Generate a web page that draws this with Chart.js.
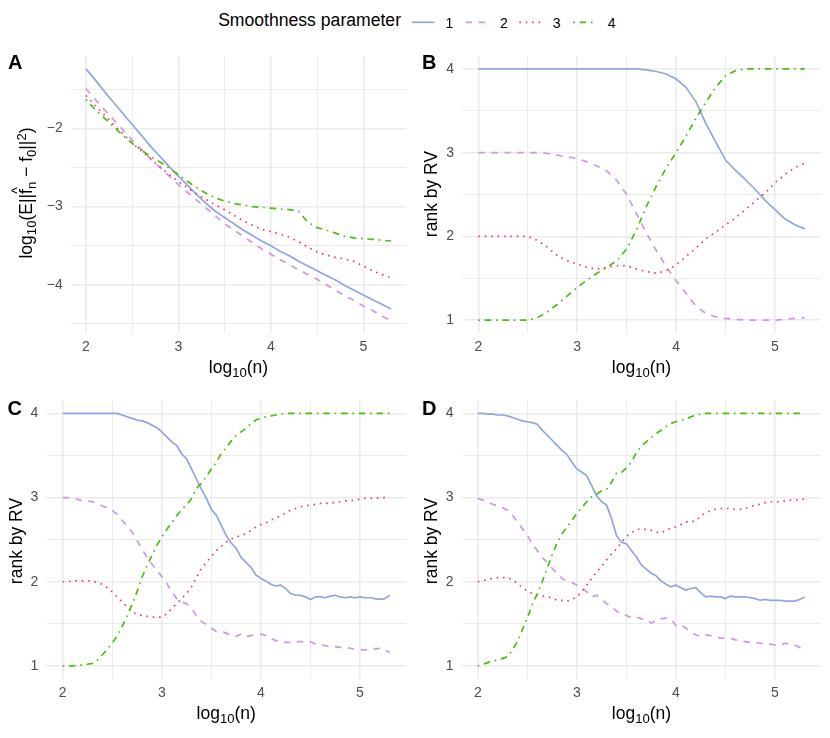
<!DOCTYPE html>
<html>
<head>
<meta charset="utf-8">
<script src="https://cdn.jsdelivr.net/npm/chart.js@4.4.1/dist/chart.umd.min.js"></script>
<style>
  body { margin: 0; background: #fff; }
  #fig { position: relative; width: 830px; height: 738px; overflow: hidden;
         font-family: "Liberation Sans", Arial, Helvetica, sans-serif; color: #000; }
  canvas { position: absolute; }
  .lbl { position: absolute; white-space: nowrap; line-height: 1; font-size: 17.5px;
         transform: translate(-50%, -50%); }
  .ytitle { transform: translate(-50%, -50%) rotate(-90deg); }
  .tag { position: absolute; font-weight: bold; font-size: 20px; line-height: 1; }
  .lbl sub, .lbl sup { font-size: 0.75em; line-height: 0; }
  .lbl sub { vertical-align: -0.3em; }
  .lbl sup { vertical-align: 0.5em; }
  .hat { position: relative; display: inline-block; }
  .caret { position: absolute; left: 0.02em; top: -0.6em; font-size: 0.8em; }
  .leg { position: absolute; white-space: nowrap; line-height: 1; transform: translate(-50%, -50%); font-size: 14px; }
  #legTitle { position: absolute; right: 429px; top: 12px; font-size: 17.6px; line-height: 1; white-space: nowrap; }
  #legKeys { position: absolute; left: 0; top: 0; }
</style>
</head>
<body>
<div id="fig">
  <span id="legTitle">Smoothness parameter</span>
  <svg id="legKeys" width="830" height="40"></svg>

  <canvas id="pA" width="415" height="340" style="left:0;top:40px"></canvas>
  <canvas id="pB" width="415" height="340" style="left:415px;top:40px"></canvas>
  <canvas id="pC" width="415" height="358" style="left:0;top:380px"></canvas>
  <canvas id="pD" width="415" height="358" style="left:415px;top:380px"></canvas>

  <div class="tag" style="left:8px;top:52.4px">A</div>
  <div class="tag" style="left:422px;top:52.4px">B</div>
  <div class="tag" style="left:7.5px;top:398px">C</div>
  <div class="tag" style="left:422px;top:398px">D</div>

  <div class="lbl" style="left:238.5px;top:367.5px">log<sub>10</sub>(n)</div>
  <div class="lbl" style="left:641.5px;top:367.5px">log<sub>10</sub>(n)</div>
  <div class="lbl" style="left:226.2px;top:714px">log<sub>10</sub>(n)</div>
  <div class="lbl" style="left:641.5px;top:714px">log<sub>10</sub>(n)</div>

  <div class="lbl ytitle" style="left:27px;top:193px">log<sub>10</sub>(E||<span class="hat">f<span class="caret">^</span></span><sub>n</sub> &#8722; f<sub>0</sub>||<sup>2</sup>)</div>
  <div class="lbl ytitle" style="left:431.5px;top:193.5px">rank by RV</div>
  <div class="lbl ytitle" style="left:16.8px;top:540.5px">rank by RV</div>
  <div class="lbl ytitle" style="left:431.5px;top:540.5px">rank by RV</div>
</div>

<script>
// x values: log10(n)
const logN = [2.0, 2.1, 2.2, 2.3, 2.4, 2.5, 2.6, 2.7, 2.8, 2.9,
              3.0, 3.1, 3.2, 3.3, 3.4, 3.5, 3.6, 3.7, 3.8, 3.9,
              4.0, 4.1, 4.2, 4.3, 4.4, 4.5, 4.6, 4.7, 4.8, 4.9,
              5.0, 5.1, 5.2, 5.3];
const logNFine = [2.00, 2.05, 2.10, 2.15, 2.20, 2.25, 2.30, 2.35, 2.40, 2.45,
                  2.50, 2.55, 2.60, 2.65, 2.70, 2.75, 2.80, 2.85, 2.90, 2.95,
                  3.00, 3.05, 3.10, 3.15, 3.20, 3.25, 3.30, 3.35, 3.40, 3.45,
                  3.50, 3.55, 3.60, 3.65, 3.70, 3.75, 3.80, 3.85, 3.90, 3.95,
                  4.00, 4.05, 4.10, 4.15, 4.20, 4.25, 4.30, 4.35, 4.40, 4.45,
                  4.50, 4.55, 4.60, 4.65, 4.70, 4.75, 4.80, 4.85, 4.90, 4.95,
                  5.00, 5.05, 5.10, 5.15, 5.20, 5.25, 5.30];

const smoothness = ['1', '2', '3', '4'];

const xMajorTicks = [2, 3, 4, 5];
const xMinorTicks = [2.5, 3.5, 4.5];
const errMajorTicks = [-4, -3, -2];
const errMinorTicks = [-4.5, -3.5, -2.5, -1.5];
const rankMajorTicks = [1, 2, 3, 4];
const rankMinorTicks = [1.5, 2.5, 3.5];

// panel A: log10 of the error
const errA1 = [-1.24, -1.38, -1.53, -1.67, -1.81, -1.95, -2.09, -2.23, -2.36, -2.49,
               -2.61, -2.73, -2.85, -2.96, -3.06, -3.14, -3.22, -3.30, -3.37, -3.44,
               -3.50, -3.57, -3.63, -3.70, -3.76, -3.82, -3.88, -3.94, -4.01, -4.07,
               -4.13, -4.19, -4.25, -4.31];
const errA2 = [-1.49, -1.63, -1.76, -1.89, -2.02, -2.15, -2.27, -2.39, -2.50, -2.61,
               -2.72, -2.82, -2.92, -3.02, -3.12, -3.22, -3.30, -3.38, -3.46, -3.54,
               -3.61, -3.68, -3.74, -3.81, -3.87, -3.93, -4.00, -4.07, -4.14, -4.20,
               -4.27, -4.33, -4.40, -4.46];
const errA3 = [-1.58, -1.71, -1.83, -1.95, -2.07, -2.19, -2.29, -2.39, -2.49, -2.59,
               -2.68, -2.76, -2.84, -2.91, -2.98, -3.04, -3.11, -3.18, -3.24, -3.29,
               -3.32, -3.35, -3.39, -3.45, -3.52, -3.58, -3.62, -3.65, -3.67, -3.70,
               -3.76, -3.82, -3.87, -3.91];
const errA4 = [-1.63, -1.76, -1.87, -1.98, -2.09, -2.19, -2.28, -2.36, -2.43, -2.51,
               -2.59, -2.68, -2.76, -2.83, -2.89, -2.93, -2.96, -2.98, -3.00, -3.01,
               -3.02, -3.03, -3.04, -3.06, -3.20, -3.27, -3.30, -3.34, -3.38, -3.40,
               -3.41, -3.42, -3.43, -3.44];

// panel B: rank by RV
const rankB1 = [4, 4, 4, 4, 4, 4, 4, 4, 4, 4,
                4, 4, 4, 4, 4, 4, 4, 3.99, 3.97, 3.94,
                3.88, 3.78, 3.61, 3.35, 3.13, 2.91, 2.79, 2.68, 2.56, 2.43,
                2.32, 2.21, 2.14, 2.09];
const rankB2 = [3, 3, 3, 3, 3, 3, 3, 2.99, 2.97, 2.95,
                2.93, 2.89, 2.84, 2.78, 2.67, 2.50, 2.27, 2.04, 1.83, 1.64,
                1.47, 1.32, 1.17, 1.08, 1.04, 1.02, 1.01, 1.00, 1.00, 1.00,
                1.00, 1.01, 1.02, 1.03];
const rankB3 = [2, 2, 2, 2, 2, 2, 1.95, 1.87, 1.77, 1.71,
                1.67, 1.63, 1.61, 1.63, 1.65, 1.65, 1.61, 1.58, 1.56, 1.59,
                1.66, 1.76, 1.86, 1.97, 2.05, 2.14, 2.22, 2.32, 2.42, 2.52,
                2.64, 2.74, 2.82, 2.87];
const rankB4 = [1, 1, 1, 1, 1, 1, 1.03, 1.10, 1.19, 1.29,
                1.39, 1.48, 1.56, 1.63, 1.71, 1.85, 2.08, 2.36, 2.60, 2.82,
                3.00, 3.20, 3.41, 3.60, 3.78, 3.92, 3.98, 4, 4, 4,
                4, 4, 4, 4];

// panel C
const rankC1 = [4.00, 4.00, 4.00, 4.00, 4.00, 4.00, 4.00, 4.00, 4.00, 4.00,
                4.00, 4.00, 3.98, 3.96, 3.94, 3.92, 3.91, 3.89, 3.86, 3.83,
                3.78, 3.72, 3.66, 3.62, 3.52, 3.46, 3.34, 3.22, 3.10, 2.99,
                2.86, 2.79, 2.67, 2.55, 2.46, 2.40, 2.29, 2.23, 2.17, 2.08,
                2.04, 2.01, 1.97, 1.95, 1.96, 1.92, 1.86, 1.84, 1.84, 1.82,
                1.79, 1.82, 1.82, 1.81, 1.83, 1.84, 1.82, 1.81, 1.82, 1.81,
                1.82, 1.81, 1.81, 1.80, 1.79, 1.80, 1.84];
const rankC2 = [3.00, 3.00, 2.99, 2.98, 2.96, 2.96, 2.95, 2.93, 2.90, 2.88,
                2.85, 2.80, 2.73, 2.66, 2.59, 2.49, 2.39, 2.29, 2.21, 2.14,
                2.06, 1.98, 1.88, 1.80, 1.76, 1.74, 1.68, 1.60, 1.53, 1.49,
                1.45, 1.41, 1.41, 1.39, 1.36, 1.35, 1.38, 1.35, 1.36, 1.38,
                1.38, 1.36, 1.33, 1.30, 1.30, 1.28, 1.28, 1.29, 1.29, 1.28,
                1.29, 1.26, 1.25, 1.24, 1.23, 1.23, 1.22, 1.22, 1.21, 1.20,
                1.19, 1.19, 1.20, 1.20, 1.21, 1.19, 1.16];
const rankC3 = [2.00, 2.00, 2.01, 2.01, 2.01, 2.01, 2.01, 1.99, 1.97, 1.93,
                1.88, 1.82, 1.76, 1.70, 1.65, 1.61, 1.60, 1.59, 1.58, 1.58,
                1.58, 1.62, 1.68, 1.74, 1.80, 1.86, 1.94, 2.05, 2.16, 2.23,
                2.30, 2.37, 2.42, 2.47, 2.51, 2.53, 2.55, 2.57, 2.61, 2.65,
                2.68, 2.70, 2.73, 2.76, 2.78, 2.82, 2.85, 2.87, 2.89, 2.90,
                2.91, 2.92, 2.93, 2.93, 2.94, 2.94, 2.95, 2.96, 2.96, 2.97,
                2.98, 2.99, 2.99, 2.99, 3.00, 3.00, 3.00];
const rankC4 = [1.00, 1.00, 1.00, 1.01, 1.01, 1.02, 1.03, 1.07, 1.13, 1.20,
                1.27, 1.36, 1.47, 1.59, 1.73, 1.88, 2.05, 2.19, 2.31, 2.43,
                2.53, 2.62, 2.70, 2.78, 2.86, 2.91, 2.99, 3.11, 3.17, 3.25,
                3.34, 3.42, 3.52, 3.59, 3.67, 3.74, 3.78, 3.82, 3.88, 3.92,
                3.94, 3.96, 3.97, 3.98, 3.99, 4.00, 4.00, 4.00, 4.00, 4.00,
                4.00, 4.00, 4.00, 4.00, 4.00, 4.00, 4.00, 4.00, 4.00, 4.00,
                4.00, 4.00, 4.00, 4.00, 4.00, 4.00, 4.00];

// panel D
const rankD1 = [4.00, 4.00, 3.99, 3.99, 3.98, 3.98, 3.97, 3.95, 3.93, 3.91,
                3.90, 3.89, 3.87, 3.80, 3.74, 3.68, 3.62, 3.56, 3.51, 3.42,
                3.34, 3.30, 3.26, 3.14, 3.02, 2.95, 2.91, 2.75, 2.55, 2.47,
                2.45, 2.37, 2.30, 2.20, 2.15, 2.10, 2.07, 2.01, 1.97, 1.94,
                1.96, 1.93, 1.90, 1.92, 1.93, 1.87, 1.82, 1.83, 1.82, 1.82,
                1.80, 1.83, 1.82, 1.82, 1.82, 1.81, 1.80, 1.78, 1.79, 1.78,
                1.78, 1.78, 1.77, 1.77, 1.77, 1.79, 1.82];
const rankD2 = [2.99, 2.97, 2.95, 2.92, 2.90, 2.88, 2.85, 2.79, 2.71, 2.63,
                2.55, 2.45, 2.37, 2.29, 2.23, 2.16, 2.10, 2.04, 2.01, 1.99,
                1.96, 1.93, 1.88, 1.82, 1.84, 1.79, 1.74, 1.71, 1.65, 1.62,
                1.60, 1.57, 1.58, 1.56, 1.55, 1.51, 1.54, 1.56, 1.57, 1.56,
                1.48, 1.49, 1.45, 1.40, 1.37, 1.35, 1.37, 1.36, 1.35, 1.33,
                1.33, 1.33, 1.31, 1.30, 1.29, 1.28, 1.28, 1.27, 1.26, 1.26,
                1.25, 1.25, 1.27, 1.26, 1.25, 1.22, 1.20];
const rankD3 = [2.00, 2.01, 2.03, 2.04, 2.05, 2.05, 2.05, 2.02, 1.98, 1.93,
                1.89, 1.86, 1.84, 1.83, 1.82, 1.81, 1.78, 1.78, 1.77, 1.79,
                1.82, 1.88, 1.96, 2.04, 2.12, 2.18, 2.26, 2.33, 2.39, 2.47,
                2.54, 2.58, 2.62, 2.63, 2.62, 2.61, 2.59, 2.58, 2.61, 2.64,
                2.65, 2.68, 2.71, 2.71, 2.72, 2.78, 2.82, 2.84, 2.86, 2.87,
                2.87, 2.87, 2.86, 2.86, 2.87, 2.89, 2.91, 2.92, 2.94, 2.95,
                2.95, 2.95, 2.96, 2.97, 2.97, 2.98, 2.98];
const rankD4 = [1.00, 1.02, 1.04, 1.06, 1.07, 1.09, 1.11, 1.19, 1.29, 1.43,
                1.57, 1.73, 1.86, 2.00, 2.16, 2.32, 2.46, 2.57, 2.65, 2.73,
                2.81, 2.88, 2.95, 3.01, 3.04, 3.08, 3.10, 3.18, 3.29, 3.30,
                3.35, 3.42, 3.53, 3.61, 3.66, 3.71, 3.76, 3.80, 3.84, 3.88,
                3.90, 3.92, 3.93, 3.96, 3.98, 3.99, 4.00, 4.00, 4.00, 4.00,
                4.00, 4.00, 4.00, 4.00, 4.00, 4.00, 4.00, 4.00, 4.00, 4.00,
                4.00, 4.00, 4.00, 4.00, 4.00, 4.00, 4.00];

const lineColors = ['#91a6de', '#cf97e0', '#f1386b', '#4bbd10'];
const lineDashes = [[], [6.5, 6.5], [1.6, 4.8], [1.6, 4.8, 6.5, 4.8]];
const tickFont = { family: '"Liberation Sans", Arial, Helvetica, sans-serif', size: 14 };

const minusFmt = v => (v < 0 ? '\u2212' + Math.abs(v) : String(v));

const isMajor = ctx => ctx.tick && Number.isInteger(ctx.tick.value);

function makePanel(id, xs, series, yRange, yMajor, yMinor, box) {
    const datasets = series.map((vals, i) => ({
        label: smoothness[i],
        data: xs.map((x, j) => ({ x: x, y: vals[j] })),
        borderColor: lineColors[i],
        borderDash: lineDashes[i],
        borderWidth: 1.7,
        borderCapStyle: 'butt',
        borderJoinStyle: 'round',
        pointRadius: 0,
        tension: 0,
        fill: false,
        order: series.length - 1 - i
    }));

    const yTicks = yMajor.concat(yMinor).sort((a, b) => a - b);
    const xTicks = xMajorTicks.concat(xMinorTicks).sort((a, b) => a - b);

    return new Chart(document.getElementById(id), {
        type: 'line',
        data: { datasets },
        options: {
            responsive: false,
            animation: false,
            layout: { padding: { top: box.top, right: box.right, left: 0, bottom: 0 } },
            plugins: { legend: { display: false }, tooltip: { enabled: false } },
            scales: {
                x: {
                    type: 'linear',
                    min: 1.835,
                    max: 5.465,
                    afterBuildTicks: axis => { axis.ticks = xTicks.map(v => ({ value: v })); },
                    afterFit: axis => { axis.height = box.xh; },
                    ticks: {
                        autoSkip: false, maxRotation: 0, padding: 6,
                        color: '#4d4d4d', font: tickFont,
                        callback: v => (Number.isInteger(v) ? String(v) : '')
                    },
                    grid: {
                        drawTicks: false,
                        color: '#ebebeb',
                        lineWidth: ctx => (isMajor(ctx) ? 1.6 : 1.0)
                    },
                    border: { display: false }
                },
                y: {
                    type: 'linear',
                    min: yRange[0],
                    max: yRange[1],
                    afterBuildTicks: axis => { axis.ticks = yTicks.map(v => ({ value: v })); },
                    afterFit: axis => { axis.width = box.yw; },
                    ticks: {
                        autoSkip: false, padding: 8,
                        color: '#4d4d4d', font: tickFont,
                        callback: v => (Number.isInteger(v) ? minusFmt(v) : '')
                    },
                    grid: {
                        drawTicks: false,
                        color: '#ebebeb',
                        lineWidth: ctx => (isMajor(ctx) ? 1.6 : 1.0)
                    },
                    border: { display: false }
                }
            }
        }
    });
}

makePanel('pA', logN, [errA1, errA2, errA3, errA4], [-4.61, -1.08],
    errMajorTicks, errMinorTicks, { top: 14, right: 8.7, yw: 70.7, xh: 47.5 });
makePanel('pB', logN, [rankB1, rankB2, rankB3, rankB4], [0.85, 4.15],
    rankMajorTicks, rankMinorTicks, { top: 14, right: 9, yw: 47, xh: 47.3 });
makePanel('pC', logNFine, [rankC1, rankC2, rankC3, rankC4], [0.85, 4.15],
    rankMajorTicks, rankMinorTicks, { top: 20.7, right: 8.9, yw: 46.3, xh: 59.4 });
makePanel('pD', logNFine, [rankD1, rankD2, rankD3, rankD4], [0.85, 4.15],
    rankMajorTicks, rankMinorTicks, { top: 20.7, right: 9, yw: 46.5, xh: 59.4 });

// legend
const legKeyLeft = [411.7, 465.7, 519.3, 573.3];
const legLabelX = [449.3, 504, 556.7, 611.7];
const svg = document.getElementById('legKeys');
const fig = document.getElementById('fig');
smoothness.forEach((s, i) => {
    const ln = document.createElementNS('http://www.w3.org/2000/svg', 'line');
    ln.setAttribute('x1', legKeyLeft[i]);
    ln.setAttribute('x2', legKeyLeft[i] + 22.6);
    ln.setAttribute('y1', 22.3);
    ln.setAttribute('y2', 22.3);
    ln.setAttribute('stroke', lineColors[i]);
    ln.setAttribute('stroke-width', 1.7);
    if (lineDashes[i].length) ln.setAttribute('stroke-dasharray', lineDashes[i].join(' '));
    svg.appendChild(ln);

    const lab = document.createElement('span');
    lab.className = 'leg';
    lab.style.left = legLabelX[i] + 'px';
    lab.style.top = '22.5px';
    lab.textContent = s;
    fig.appendChild(lab);
});
</script>
</body>
</html>
